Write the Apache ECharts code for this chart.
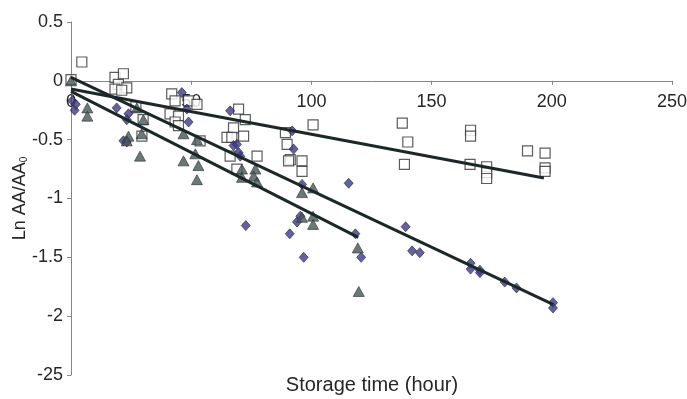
<!DOCTYPE html>
<html>
<head>
<meta charset="utf-8">
<script src="https://cdn.jsdelivr.net/npm/echarts@6/dist/echarts.min.js"></script>
<style>html,body{margin:0;padding:0;background:#fff}#c{width:687px;height:399px}</style>
</head>
<body>
<div id="c"></div>
<script>
// ---- data ----
var xTickValues = [0, 50, 100, 150, 200, 250];
var xTickLabels = ["0", "50", "100", "150", "200", "250"];
var yTickValues = [-2.5, -2, -1.5, -1, -0.5, 0, 0.5];
var yTickLabels = ["-25", "-2", "-1.5", "-1", "-0.5", "0", "0.5"];

var squarePoints = [
  [0, 0.01], [4.5, 0.16],
  [18.3, 0.03], [21.8, 0.06], [19.7, -0.03], [23.2, -0.06], [18.3, -0.07], [21.1, -0.08],
  [27, -0.22], [30, -0.33], [29.5, -0.47],
  [41.9, -0.11], [43.3, -0.17], [48.9, -0.17], [52.4, -0.2], [41.2, -0.28], [44.7, -0.3], [43.3, -0.35], [44.7, -0.38], [53.7, -0.51],
  [69.7, -0.24], [72.5, -0.33], [67.6, -0.4], [71.8, -0.47], [64.9, -0.48], [66.9, -0.48], [66.2, -0.64], [77.4, -0.64], [69, -0.75],
  [100.7, -0.375], [89.2, -0.44], [89.9, -0.54], [91.2, -0.67], [96.1, -0.68], [96.1, -0.77], [90.5, -0.68],
  [137.8, -0.36], [140.1, -0.52], [138.7, -0.71], [166.2, -0.42], [166.2, -0.47], [166, -0.71],
  [172.9, -0.73], [172.9, -0.78], [172.9, -0.83], [189.9, -0.595], [197.2, -0.615], [197.2, -0.74], [197.2, -0.77]
];
var diamondPoints = [
  [0.5, -0.17], [1.5, -0.25], [2, -0.2], [19, -0.23], [23.9, -0.28], [23.2, -0.33], [21.8, -0.51], [23.2, -0.52],
  [46.1, -0.1], [48.2, -0.24], [48.9, -0.35], [66.2, -0.255], [67.6, -0.55], [69, -0.54], [70.4, -0.64], [69.7, -0.61],
  [72.7, -1.23],
  [92, -0.425], [92.6, -0.58], [96.1, -0.88], [115.5, -0.87], [95.4, -1.15], [94, -1.2], [91, -1.3], [118.3, -1.3], [96.8, -1.5], [120.7, -1.5],
  [139.2, -1.24], [141.9, -1.445], [145.1, -1.46], [166.2, -1.55], [166.2, -1.6], [170.1, -1.61], [170.1, -1.63],
  [180.4, -1.71], [185.3, -1.76], [200.5, -1.885], [200.5, -1.93]
];
var trianglePoints = [
  [0, 0], [6.8, -0.23], [6.8, -0.3], [27.4, -0.23], [30.1, -0.33], [29.4, -0.45], [23.9, -0.47], [23.2, -0.51], [28.7, -0.64],
  [46.8, -0.45], [52.4, -0.5], [51.7, -0.62], [46.8, -0.68], [53, -0.72], [52.4, -0.84],
  [71.1, -0.75], [76.7, -0.75], [76, -0.81], [71.1, -0.82], [77.4, -0.86],
  [96.1, -0.95], [100.7, -0.91], [96.1, -1.16], [100.7, -1.15], [100.7, -1.22], [119.3, -1.42], [119.7, -1.79]
];
// fitted trend lines (end points)
var squareFit = [[0, -0.07], [196.7, -0.825]];
var diamondFit = [[0, 0.03], [200.5, -1.9]];
var triangleFit = [[0, -0.09], [119.5, -1.33]];

// ---- chart ----
var chart = echarts.init(document.getElementById('c'), null, {renderer: 'canvas'});
var FONT = '"Liberation Sans", Arial, sans-serif';
var TXT = '#262626';
var AX = '#858585';
function lookup(vals, labs, v) {
  for (var i = 0; i < vals.length; i++) if (Math.abs(vals[i] - v) < 1e-6) return labs[i];
  return '';
}
var yMin = -2.5, yMax = 0.5;
var plotTop = 22, plotBottom = 375;
var zeroPx = plotTop + (plotBottom - plotTop) * (yMax - 0) / (yMax - yMin);
var lineStyle = {color: '#1b2828', width: 3};
chart.setOption({
  animation: false,
  backgroundColor: '#fff',
  grid: [
    {left: 71, right: 15, top: plotTop, height: plotBottom - plotTop, containLabel: false, outerBoundsMode: 'none'},
    {left: 71, right: 15, top: plotTop, height: zeroPx - plotTop, containLabel: false, outerBoundsMode: 'none'}
  ],
  xAxis: [
    {gridIndex: 0, type: 'value', min: 0, max: 250, interval: 50, show: false},
    {gridIndex: 1, type: 'value', min: 0, max: 250, interval: 50, position: 'bottom',
      axisLine: {onZero: false, lineStyle: {color: AX, width: 1}},
      axisTick: {show: true, inside: false, length: 4, lineStyle: {color: AX}},
      axisLabel: {color: TXT, fontFamily: FONT, fontSize: 18, margin: 12,
        formatter: function (v) { return lookup(xTickValues, xTickLabels, v); }},
      splitLine: {show: false}}
  ],
  yAxis: [
    {gridIndex: 0, type: 'value', min: yMin, max: yMax, interval: 0.5,
      axisLine: {show: true, onZero: false, lineStyle: {color: AX, width: 1}},
      axisTick: {show: true, inside: false, length: 4, lineStyle: {color: AX}},
      axisLabel: {color: TXT, fontFamily: FONT, fontSize: 18, margin: 8,
        formatter: function (v) { return lookup(yTickValues, yTickLabels, v); }},
      splitLine: {show: false},
      name: '{m|Ln AA/AA}{s|0}',
      nameLocation: 'middle', nameGap: 42, nameRotate: 90, nameMoveOverlap: false,
      nameTextStyle: {
        color: TXT, fontFamily: FONT, fontSize: 18,
        rich: {
          m: {color: TXT, fontFamily: FONT, fontSize: 18},
          s: {color: TXT, fontFamily: FONT, fontSize: 10, verticalAlign: 'bottom', padding: [8, 0, 0, 0]}
        }
      }},
    {gridIndex: 1, type: 'value', min: 0, max: 1, show: false}
  ],
  graphic: [{
    type: 'text', x: 372, y: 385,
    style: {text: 'Storage time (hour)', fill: TXT, font: '20px ' + FONT, textAlign: 'center', textVerticalAlign: 'middle'}
  }],
  series: [
    {type: 'scatter', data: squarePoints, symbol: 'rect', symbolSize: 10,
      itemStyle: {color: '#ffffff', borderColor: '#333333', borderWidth: 1.2}, z: 2},
    {type: 'scatter', data: diamondPoints, symbol: 'diamond', symbolSize: [9, 10],
      itemStyle: {color: '#3d3a8c', borderColor: '#222233', borderWidth: 0.8}, z: 3},
    {type: 'scatter', data: trianglePoints, symbol: 'triangle', symbolSize: [11, 10],
      itemStyle: {color: '#475656', borderColor: '#2a3434', borderWidth: 0.8}, z: 4},
    {type: 'line', data: squareFit, symbol: 'none', lineStyle: lineStyle, z: 5},
    {type: 'line', data: diamondFit, symbol: 'none', lineStyle: lineStyle, z: 5},
    {type: 'line', data: triangleFit, symbol: 'none', lineStyle: lineStyle, z: 5}
  ]
});
</script>
</body>
</html>
